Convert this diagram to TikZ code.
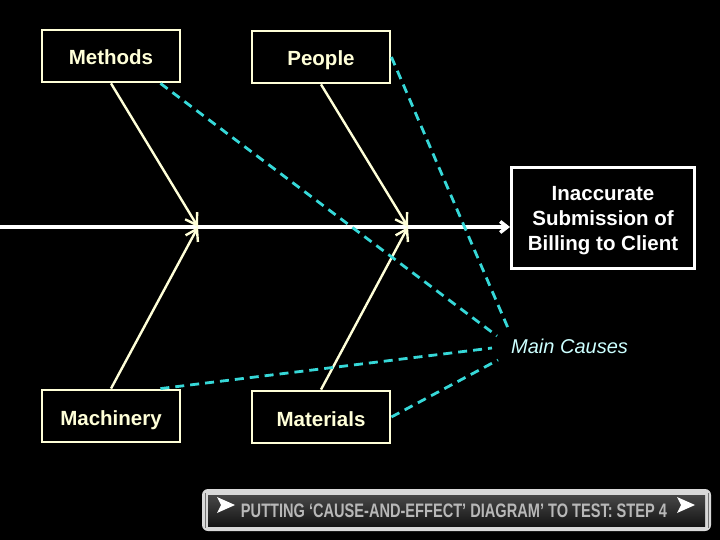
\documentclass[tikz,border=0pt]{standalone}
\usepackage{fontspec}
\setmainfont{Liberation Sans}
\usetikzlibrary{arrows.meta,positioning}
\definecolor{creme}{HTML}{FFFFD8}
\definecolor{tuerk}{HTML}{36D8D8}
\definecolor{hell}{HTML}{CCFFFF}
\definecolor{bandg}{HTML}{D8D8D8}
\definecolor{bandt}{HTML}{B8B8B8}
\tikzset{
  cause/.style={draw=creme,line width=2.8pt,text=creme,font=\bfseries\fontsize{20.5}{25}\selectfont,minimum width=138pt,minimum height=52pt,inner sep=0pt,text height=18pt,text depth=0pt},
  effect/.style={draw=white,line width=3pt,text=white,font=\bfseries\fontsize{20.5}{25}\selectfont,align=center,minimum width=183pt,minimum height=100pt,inner sep=0pt,text depth=-5pt},
  rib/.style={creme,line width=2.4pt,-{Straight Barb[length=11pt,width=14pt]}},
  spine/.style={white,line width=3.5pt,-{Straight Barb[length=7pt,width=11pt]}},
  hint/.style={tuerk,line width=2.8pt,dash pattern=on 9pt off 6pt},
  causes/.style={text=hell,font=\itshape\fontsize{20}{24}\selectfont,inner sep=0pt},
}

\begin{document}
\begin{tikzpicture}[x=1pt,y=-1pt]
  \fill[black] (0,0) rectangle (720,540);
  \useasboundingbox (0,0) rectangle (720,540);
  % boxes
  \node[cause] (methods) at (111,56) {Methods};
  \node[cause] (people) at (321,57) {People};
  \node[cause] (machinery) at (111,416) {Machinery};
  \node[cause] (materials) at (321,417) {Materials};
  \node[effect] (effect) at (603,218) {Inaccurate\\Submission of\\Billing to Client};
  \node[causes,anchor=west] (maincauses) at (511,346) {Main Causes};
  % spine and ribs
  \coordinate (tail) at (0,227);
  \coordinate (j1) at (198,227);
  \coordinate (j2) at (408,227);
  \draw[spine] (tail) -- (tail -| effect.west);
  \draw[rib] (methods.south) -- (j1);
  \draw[rib] (machinery.north) -- (j1);
  \draw[rib] (people.south) -- (j2);
  \draw[rib] (materials.north) -- (j2);
  % pointers to the label
  \coordinate (c1) at (497,336);
  \coordinate (c2) at (508,328);
  \coordinate (c3) at (492,348);
  \coordinate (c4) at (498,360);
  \draw[hint] ([xshift=-21pt]methods.south east) -- (c1);
  \draw[hint] (people.east) -- (c2);
  \draw[hint] ([xshift=-21pt]machinery.north east) -- (c3);
  \draw[hint] (materials.east) -- (c4);
  % title band
  \fill[bandg,rounded corners=6pt] (202,489) rectangle (711,531);
  \shade[top color=black!72,bottom color=black!92] (208,495) rectangle (705,526);
  \draw[black!55,line width=0.6pt] (205,493) -- (205,528);
  \draw[black!55,line width=0.6pt] (708,493) -- (708,528);
  \fill[white] (217,497) -- (235,505) -- (217,513) -- (221,505) -- cycle;
  \fill[white] (677,497) -- (695,505) -- (677,513) -- (681,505) -- cycle;
  \node[text=bandt,font=\bfseries\fontsize{19.5}{19.5}\selectfont,anchor=base,inner sep=0pt] (band) at (454,517)
    {\resizebox{426pt}{\height}{PUTTING ‘CAUSE-AND-EFFECT’ DIAGRAM’ TO TEST: STEP 4}};
\end{tikzpicture}
\end{document}
